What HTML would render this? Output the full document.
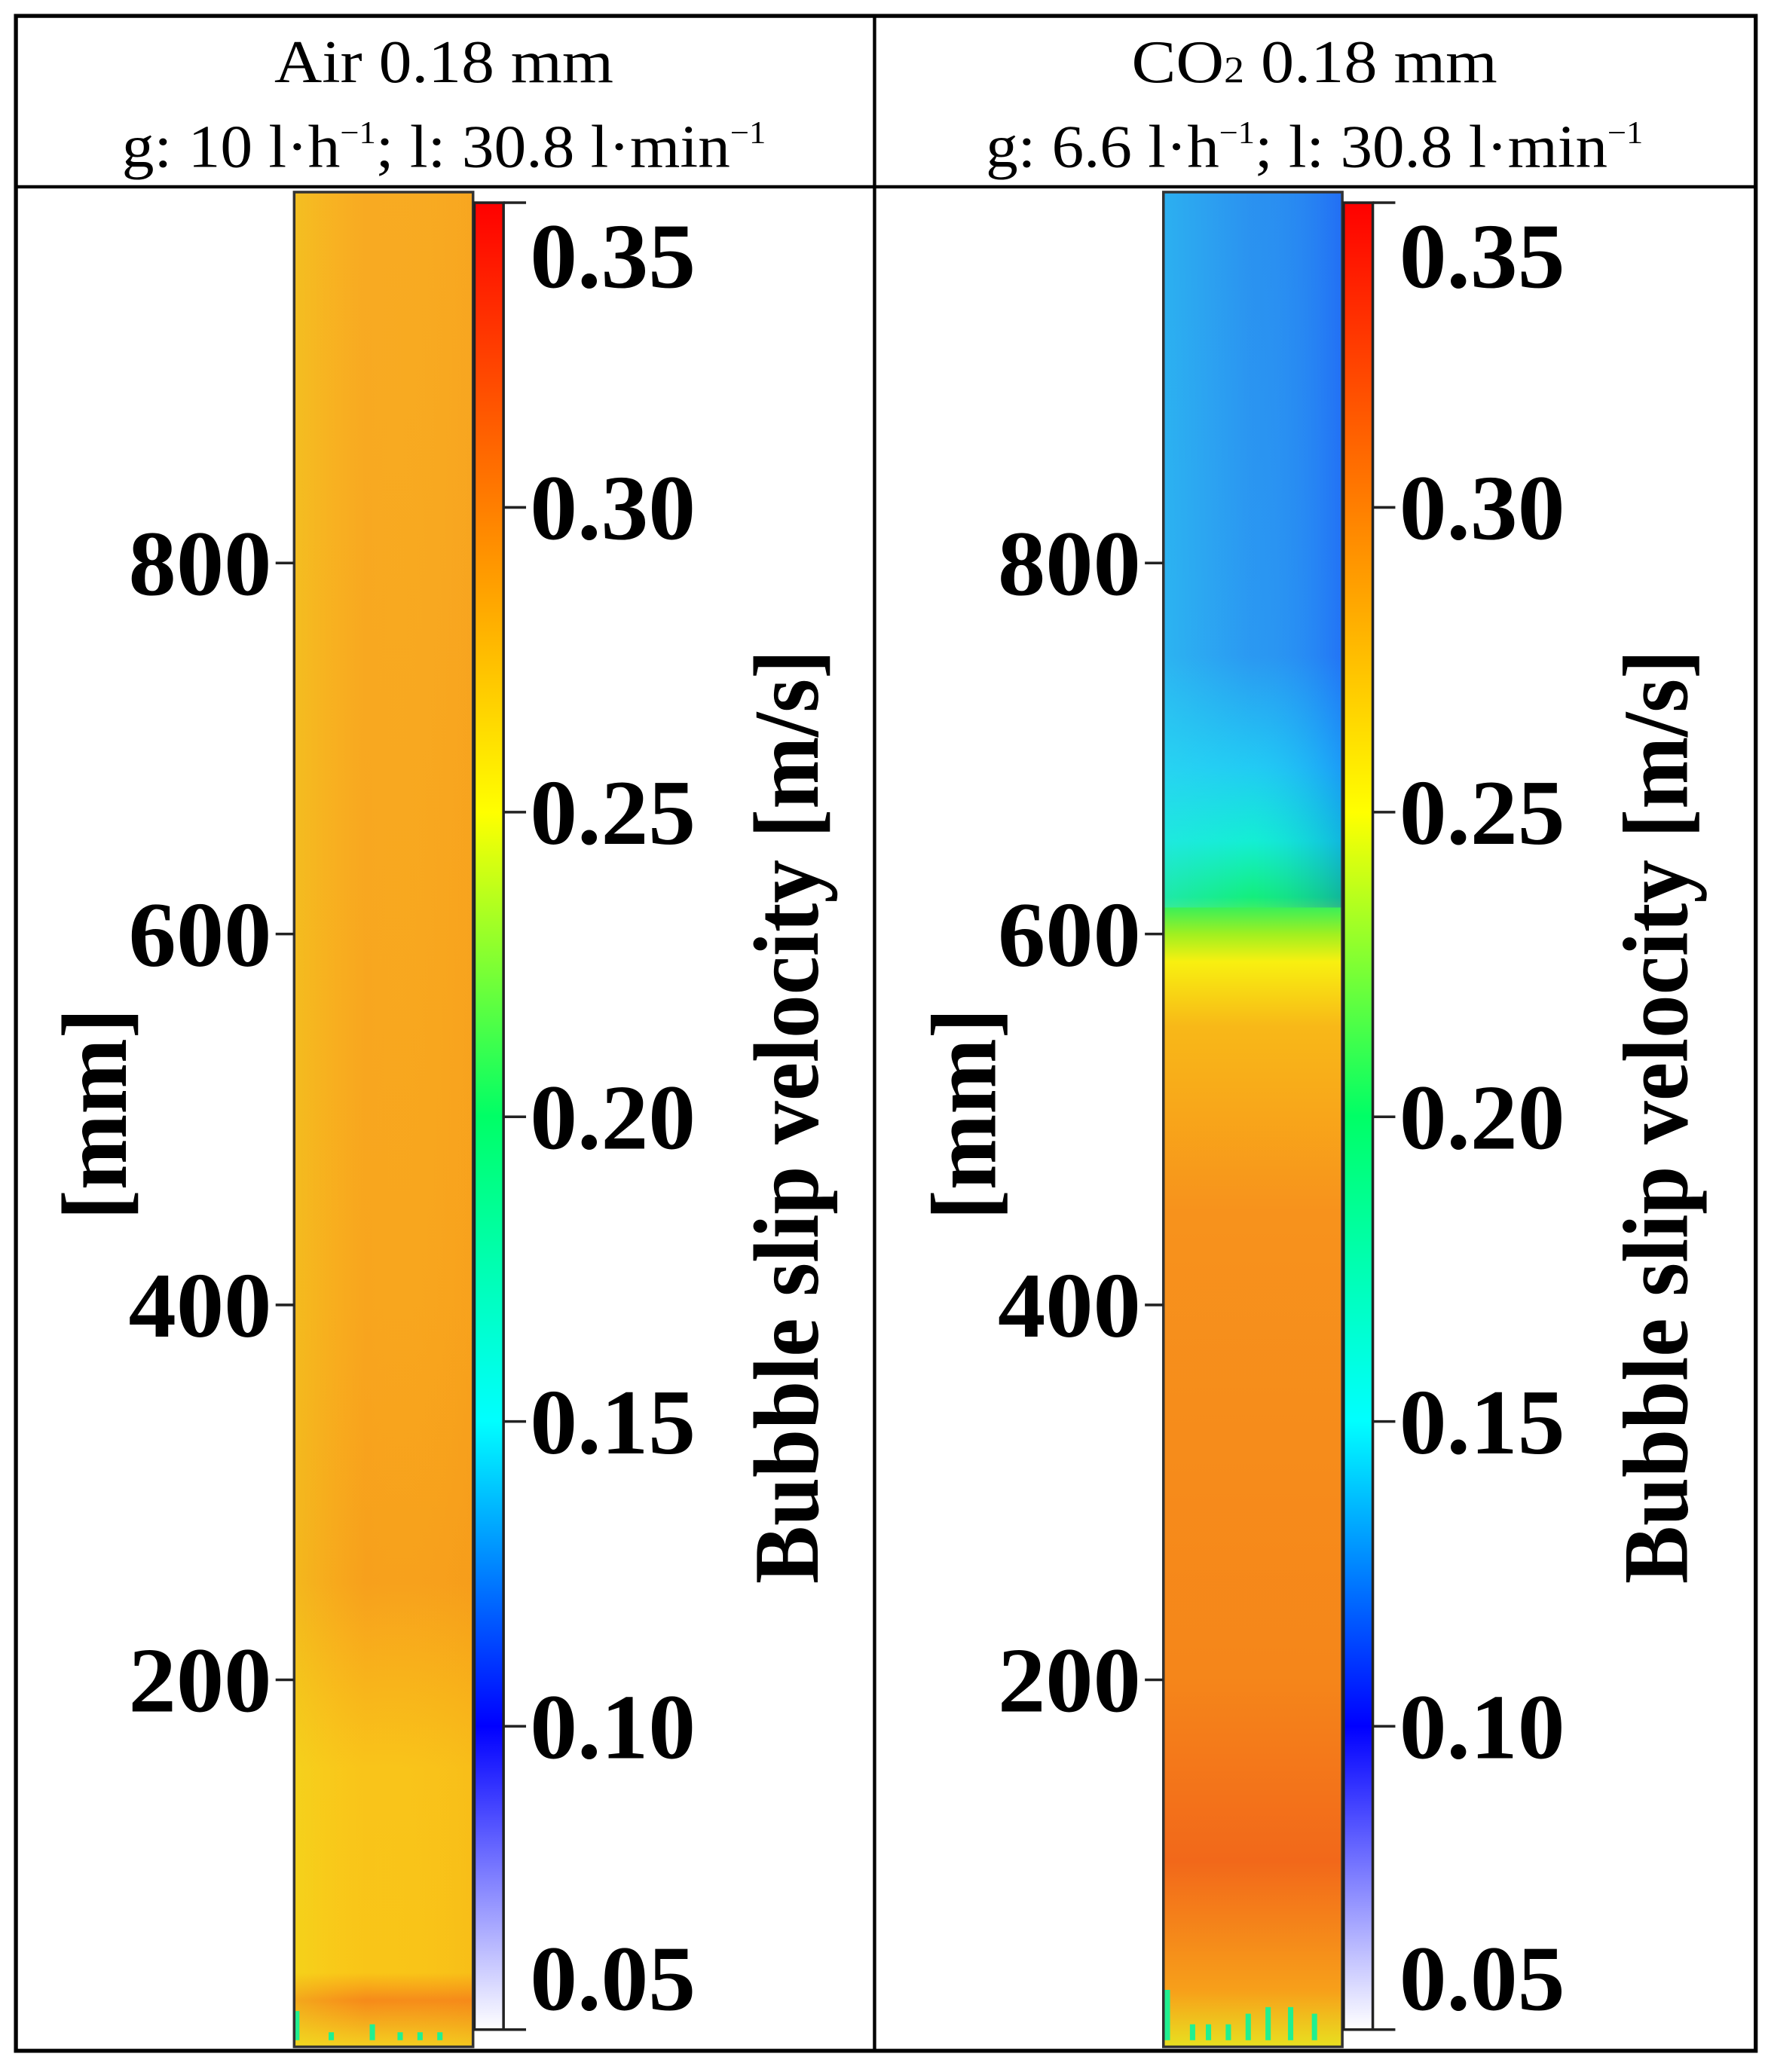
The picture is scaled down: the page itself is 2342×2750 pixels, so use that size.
<!DOCTYPE html>
<html><head><meta charset="utf-8"><style>html,body{margin:0;padding:0;background:#fff}svg{display:block}</style></head>
<body>
<svg width="2342" height="2750" viewBox="0 0 1332 1564" preserveAspectRatio="none" xmlns="http://www.w3.org/2000/svg">
<defs>
<linearGradient id="cb" x1="0" y1="0" x2="0" y2="1">
<stop offset="0" stop-color="#ff0000"/>
<stop offset="0.167" stop-color="#ff7f00"/>
<stop offset="0.334" stop-color="#ffff00"/>
<stop offset="0.5" stop-color="#00ff66"/>
<stop offset="0.667" stop-color="#00ffff"/>
<stop offset="0.834" stop-color="#0000ff"/>
<stop offset="1" stop-color="#ffffff"/>
</linearGradient>
<linearGradient id="airg" x1="0" y1="0" x2="0" y2="1">
<stop offset="0" stop-color="#f8aa22"/>
<stop offset="0.6" stop-color="#f8a51e"/>
<stop offset="0.75" stop-color="#f7a01c"/>
<stop offset="0.85" stop-color="#f9c41a"/>
<stop offset="0.96" stop-color="#f9c518"/>
<stop offset="0.975" stop-color="#f68a1a"/>
<stop offset="1" stop-color="#f3d020"/>
</linearGradient>
<linearGradient id="airx" x1="0" y1="0" x2="1" y2="0">
<stop offset="0" stop-color="#e8f020" stop-opacity="0.3"/>
<stop offset="0.4" stop-color="#ffe020" stop-opacity="0"/>
<stop offset="1" stop-color="#f08010" stop-opacity="0.1"/>
</linearGradient>
<linearGradient id="co2g" x1="0" y1="0" x2="0" y2="1">
<stop offset="0" stop-color="#2a88f0"/>
<stop offset="0.25" stop-color="#2a90f2"/>
<stop offset="0.31" stop-color="#20c8f4"/>
<stop offset="0.35" stop-color="#10f0d0"/>
<stop offset="0.38" stop-color="#10f070"/>
<stop offset="0.40" stop-color="#a0f020"/>
<stop offset="0.415" stop-color="#f8f010"/>
<stop offset="0.45" stop-color="#f8b818"/>
<stop offset="0.55" stop-color="#f7921c"/>
<stop offset="0.8" stop-color="#f5861a"/>
<stop offset="0.9" stop-color="#f2681a"/>
<stop offset="0.97" stop-color="#f7a01a"/>
<stop offset="1" stop-color="#e8e020"/>
</linearGradient>
<linearGradient id="co2x" x1="0" y1="0" x2="1" y2="0">
<stop offset="0" stop-color="#30e0f0" stop-opacity="0.45"/>
<stop offset="0.5" stop-color="#30e0f0" stop-opacity="0.1"/>
<stop offset="1" stop-color="#1030ff" stop-opacity="0.3"/>
</linearGradient>
</defs>
<rect x="12" y="12" width="1313" height="1536" fill="none" stroke="#000" stroke-width="3"/>
<line x1="660" y1="12" x2="660" y2="1548" stroke="#000" stroke-width="2.5"/>
<line x1="12" y1="141" x2="1325" y2="141" stroke="#000" stroke-width="2.5"/>
<g font-family="Liberation Serif, serif" font-size="46" text-anchor="middle" fill="#000">
<text x="335" y="62" textLength="256" lengthAdjust="spacingAndGlyphs">Air 0.18 mm</text>
<text x="335" y="126" textLength="486" lengthAdjust="spacingAndGlyphs">g: 10 l·h<tspan font-size="24" dy="-18">−1</tspan><tspan dy="18">; l: 30.8 l·min</tspan><tspan font-size="24" dy="-18">−1</tspan></text>
<text x="992" y="62" textLength="276" lengthAdjust="spacingAndGlyphs">CO<tspan font-size="28">2</tspan> 0.18 mm</text>
<text x="992" y="126" textLength="496" lengthAdjust="spacingAndGlyphs">g: 6.6 l·h<tspan font-size="24" dy="-18">−1</tspan><tspan dy="18">; l: 30.8 l·min</tspan><tspan font-size="24" dy="-18">−1</tspan></text>
</g>
<rect x="222" y="145" width="135" height="1400" fill="url(#airg)"/>
<rect x="222" y="145" width="135" height="1400" fill="url(#airx)"/>
<g fill="#20f090"><rect x="222" y="1518" width="4" height="22"/><rect x="248" y="1534" width="4" height="6"/><rect x="279" y="1528" width="4" height="12"/><rect x="300" y="1534" width="4" height="6"/><rect x="315" y="1534" width="4" height="6"/><rect x="330" y="1534" width="4" height="6"/></g>
<rect x="222" y="145" width="135" height="1400" fill="none" stroke="#333" stroke-width="2"/>
<rect x="878" y="145" width="135" height="1400" fill="url(#co2g)"/>
<rect x="878" y="145" width="135" height="540" fill="url(#co2x)"/>
<g fill="#20f090"><rect x="878" y="1502" width="5" height="38"/><rect x="898" y="1528" width="4" height="12"/><rect x="910" y="1528" width="4" height="12"/><rect x="925" y="1528" width="4" height="12"/><rect x="940" y="1520" width="4" height="20"/><rect x="955" y="1515" width="4" height="25"/><rect x="972" y="1515" width="4" height="25"/><rect x="990" y="1520" width="4" height="20"/></g>
<rect x="878" y="145" width="135" height="1400" fill="none" stroke="#333" stroke-width="2"/>
<rect x="358" y="153" width="22" height="1379" fill="url(#cb)" stroke="#222" stroke-width="2"/>
<rect x="1014" y="153" width="22" height="1379" fill="url(#cb)" stroke="#222" stroke-width="2"/>
<g stroke="#222" stroke-width="2">
<line x1="380" y1="153" x2="397" y2="153"/><line x1="380" y1="383" x2="397" y2="383"/><line x1="380" y1="613" x2="397" y2="613"/><line x1="380" y1="843" x2="397" y2="843"/><line x1="380" y1="1073" x2="397" y2="1073"/><line x1="380" y1="1303" x2="397" y2="1303"/><line x1="380" y1="1532" x2="397" y2="1532"/>
<line x1="1036" y1="153" x2="1053" y2="153"/><line x1="1036" y1="383" x2="1053" y2="383"/><line x1="1036" y1="613" x2="1053" y2="613"/><line x1="1036" y1="843" x2="1053" y2="843"/><line x1="1036" y1="1073" x2="1053" y2="1073"/><line x1="1036" y1="1303" x2="1053" y2="1303"/><line x1="1036" y1="1532" x2="1053" y2="1532"/>
<line x1="208" y1="425" x2="222" y2="425"/><line x1="208" y1="705" x2="222" y2="705"/><line x1="208" y1="985" x2="222" y2="985"/><line x1="208" y1="1268" x2="222" y2="1268"/>
<line x1="864" y1="425" x2="878" y2="425"/><line x1="864" y1="705" x2="878" y2="705"/><line x1="864" y1="985" x2="878" y2="985"/><line x1="864" y1="1268" x2="878" y2="1268"/>
</g>
<g font-family="Liberation Serif, serif" font-weight="bold" font-size="70" fill="#000">
<g text-anchor="start">
<text x="400" y="217" textLength="125" lengthAdjust="spacingAndGlyphs">0.35</text>
<text x="400" y="407" textLength="125" lengthAdjust="spacingAndGlyphs">0.30</text>
<text x="400" y="637" textLength="125" lengthAdjust="spacingAndGlyphs">0.25</text>
<text x="400" y="867" textLength="125" lengthAdjust="spacingAndGlyphs">0.20</text>
<text x="400" y="1097" textLength="125" lengthAdjust="spacingAndGlyphs">0.15</text>
<text x="400" y="1327" textLength="125" lengthAdjust="spacingAndGlyphs">0.10</text>
<text x="400" y="1517" textLength="125" lengthAdjust="spacingAndGlyphs">0.05</text>
<text x="1056" y="217" textLength="125" lengthAdjust="spacingAndGlyphs">0.35</text>
<text x="1056" y="407" textLength="125" lengthAdjust="spacingAndGlyphs">0.30</text>
<text x="1056" y="637" textLength="125" lengthAdjust="spacingAndGlyphs">0.25</text>
<text x="1056" y="867" textLength="125" lengthAdjust="spacingAndGlyphs">0.20</text>
<text x="1056" y="1097" textLength="125" lengthAdjust="spacingAndGlyphs">0.15</text>
<text x="1056" y="1327" textLength="125" lengthAdjust="spacingAndGlyphs">0.10</text>
<text x="1056" y="1517" textLength="125" lengthAdjust="spacingAndGlyphs">0.05</text>
</g>
<g text-anchor="end">
<text x="205" y="449" textLength="108" lengthAdjust="spacingAndGlyphs">800</text>
<text x="205" y="729" textLength="108" lengthAdjust="spacingAndGlyphs">600</text>
<text x="205" y="1009" textLength="108" lengthAdjust="spacingAndGlyphs">400</text>
<text x="205" y="1292" textLength="108" lengthAdjust="spacingAndGlyphs">200</text>
<text x="861" y="449" textLength="108" lengthAdjust="spacingAndGlyphs">800</text>
<text x="861" y="729" textLength="108" lengthAdjust="spacingAndGlyphs">600</text>
<text x="861" y="1009" textLength="108" lengthAdjust="spacingAndGlyphs">400</text>
<text x="861" y="1292" textLength="108" lengthAdjust="spacingAndGlyphs">200</text>
</g>
<g text-anchor="middle">
<text transform="translate(95,841) rotate(-90)" textLength="160" lengthAdjust="spacingAndGlyphs">[mm]</text>
<text transform="translate(751,841) rotate(-90)" textLength="160" lengthAdjust="spacingAndGlyphs">[mm]</text>
<text transform="translate(617,843) rotate(-90)" textLength="705" lengthAdjust="spacingAndGlyphs">Bubble slip velocity [m/s]</text>
<text transform="translate(1273,843) rotate(-90)" textLength="705" lengthAdjust="spacingAndGlyphs">Bubble slip velocity [m/s]</text>
</g>
</g>
</svg>
</body></html>
